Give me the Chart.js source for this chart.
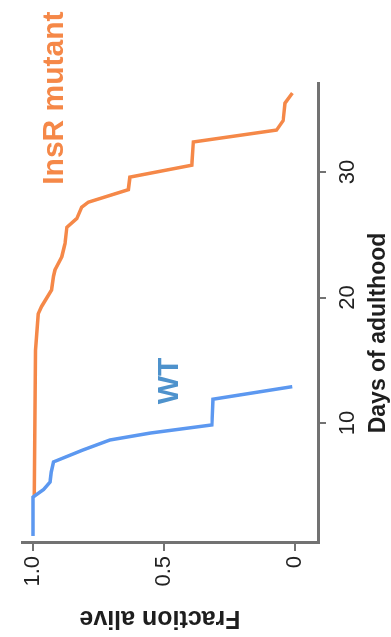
<!DOCTYPE html>
<html>
<head>
<meta charset="utf-8">
<script src="https://cdn.jsdelivr.net/npm/chart.js@4"></script>
<style>
  html, body { margin: 0; padding: 0; background: #fff; overflow: hidden; }
  /* the figure is printed turned a quarter turn to the left */
  #wrap {
    position: absolute; left: 0; top: 0;
    width: 637px; height: 391px;
    transform-origin: 0 0;
    transform: translateY(637px) rotate(-90deg);
  }
</style>
</head>
<body>
<div id="wrap"><canvas id="myChart" width="637" height="391"></canvas></div>
<script>
// Survival data
const wtDays = [1.0, 4.1, 4.7, 5.3, 6.1, 6.9, 7.85, 8.65, 9.2, 9.85, 11.9, 12.9];
const wtFrac = [1.0, 1.0, 0.96, 0.935, 0.93, 0.922, 0.81, 0.706, 0.553, 0.317, 0.313, 0.01];

const insDays = [4.1, 15.8, 18.7, 19.3, 20.6, 21.7, 22.2, 23.25, 24.3, 25.6, 26.3, 27.2, 27.6, 28.6, 29.6, 30.55, 32.4, 33.35, 34.1, 35.5, 36.3];
const insFrac = [0.995, 0.99, 0.98, 0.967, 0.929, 0.922, 0.916, 0.89, 0.878, 0.871, 0.833, 0.814, 0.789, 0.636, 0.63, 0.394, 0.388, 0.07, 0.045, 0.038, 0.01];

const dayTicks = [10, 20, 30];
const fracTicks = [0, 0.5, 1];

const blue = 'rgb(92, 152, 240)';
const blueText = 'rgb(78, 146, 204)';
const orange = 'rgb(245, 136, 72)';
const axisGrey = '#727272';
const font = '"Liberation Sans", Arial, sans-serif';

function toPoints(xs, ys) {
    return xs.map(function(d, i) { return { x: d, y: ys[i] }; });
}

// series names and axis titles
const notes = {
    id: 'notes',
    afterDatasetsDraw(chart) {
        const ctx = chart.ctx;
        const x = chart.scales.x;
        const y = chart.scales.y;
        ctx.save();
        ctx.textAlign = 'center';
        ctx.textBaseline = 'middle';
        ctx.font = 'bold 30px ' + font;
        ctx.fillStyle = blueText;
        ctx.fillText('WT', x.getPixelForValue(13.35), y.getPixelForValue(0.477));
        ctx.fillStyle = orange;
        ctx.fillText('InsR mutant', x.getPixelForValue(35.9), y.getPixelForValue(0.916));

        ctx.fillStyle = '#1e1e1e';
        ctx.font = 'bold 23px ' + font;
        ctx.fillText('Days of adulthood', chart.chartArea.left + 210, 379);
        ctx.font = 'bold 25px ' + font;
        ctx.translate(19, 160);
        ctx.rotate(-Math.PI / 2);
        ctx.fillText('Fraction alive', 0, 0);
        ctx.restore();
    }
};

const ctx = document.getElementById('myChart').getContext('2d');
const myChart = new Chart(ctx, {
    type: 'line',
    data: {
        datasets: [{
            label: 'WT',
            data: toPoints(wtDays, wtFrac),
            borderColor: blue,
            borderWidth: 3.5,
            pointRadius: 0,
            tension: 0,
            fill: false
        }, {
            label: 'InsR mutant',
            data: toPoints(insDays, insFrac),
            borderColor: orange,
            borderWidth: 3.5,
            pointRadius: 0,
            tension: 0,
            fill: false
        }]
    },
    options: {
        responsive: false,
        animation: false,
        devicePixelRatio: 1,
        layout: { padding: { left: 0, right: 83, top: 22, bottom: 0 } },
        plugins: {
            legend: { display: false },
            tooltip: { enabled: false }
        },
        scales: {
            x: {
                type: 'linear',
                min: 0.44,
                max: 37.1,
                afterBuildTicks: function(scale) {
                    scale.ticks = dayTicks.map(function(v) { return { value: v }; });
                },
                afterFit: function(scale) { scale.height = 73; },
                grid: { drawOnChartArea: false, drawTicks: true, tickLength: 8, color: axisGrey, lineWidth: 2 },
                border: { display: true, color: axisGrey, width: 3 },
                ticks: {
                    padding: 9,
                    color: '#222',
                    font: { family: font, size: 22 },
                    maxRotation: 0
                }
            },
            y: {
                min: -0.088,
                max: 1.042,
                afterBuildTicks: function(scale) {
                    scale.ticks = fracTicks.map(function(v) { return { value: v }; });
                },
                afterFit: function(scale) { scale.width = 94; },
                grid: { drawOnChartArea: false, drawTicks: true, tickLength: 8, color: axisGrey, lineWidth: 2 },
                border: { display: true, color: axisGrey, width: 3 },
                ticks: {
                    padding: 5,
                    color: '#222',
                    font: { family: font, size: 22 },
                    callback: function(v) { return v === 0 ? '0' : v.toFixed(1); }
                }
            }
        }
    },
    plugins: [notes]
});
</script>
</body>
</html>
